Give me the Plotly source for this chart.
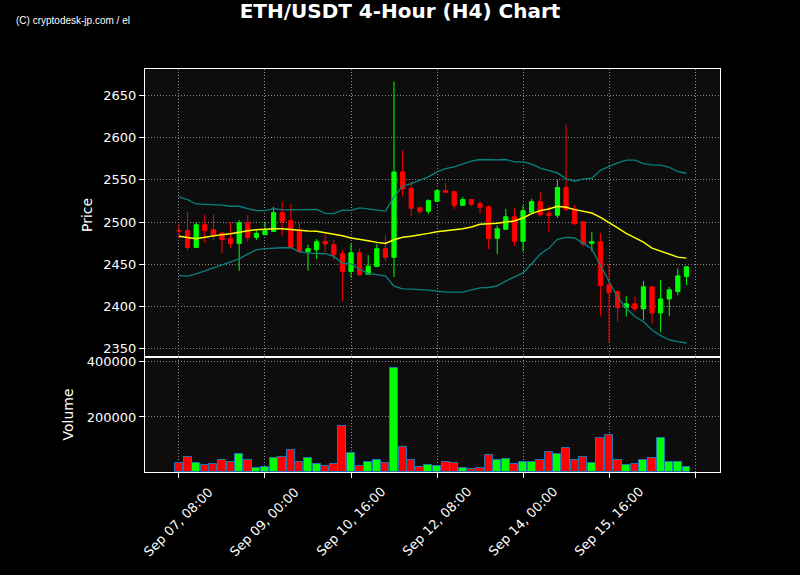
import pandas as pd
import plotly.graph_objects as go

# ---- data ----
start_time = "2024-09-07 08:00"
n_candles = 60
dates = pd.date_range(start=start_time, periods=n_candles, freq="4h")

opens = [2490.0, 2489.7, 2469.8, 2496.8, 2490.9, 2486.9, 2480.0, 2474.6, 2499.2, 2481.7,
         2484.9, 2488.9, 2511.1, 2501.6, 2490.5, 2464.7, 2467.0, 2477.0, 2473.0, 2462.3,
         2441.3, 2463.5, 2438.0, 2447.2, 2468.3, 2458.0, 2559.5, 2539.7, 2517.0, 2512.7,
         2524.6, 2537.3, 2536.0, 2519.8, 2526.6, 2521.8, 2518.0, 2480.6, 2491.3, 2506.3,
         2477.0, 2511.5, 2524.2, 2510.0, 2508.0, 2540.9, 2515.5, 2500.0, 2474.6, 2476.6,
         2425.4, 2417.5, 2398.4, 2402.8, 2396.8, 2423.0, 2392.0, 2408.7, 2417.5, 2435.3]
highs = [2498.0, 2511.9, 2499.6, 2508.7, 2508.7, 2487.5, 2500.0, 2502.4, 2508.3, 2490.0,
         2500.0, 2517.9, 2523.8, 2521.4, 2499.6, 2473.0, 2479.8, 2484.5, 2478.6, 2467.0,
         2474.6, 2468.7, 2460.7, 2473.8, 2484.5, 2666.7, 2584.9, 2548.4, 2517.5, 2527.0,
         2538.5, 2546.4, 2537.3, 2529.8, 2527.4, 2524.6, 2520.0, 2496.0, 2515.5, 2516.3,
         2519.8, 2527.4, 2535.7, 2518.7, 2550.0, 2615.9, 2519.8, 2501.2, 2488.0, 2487.0,
         2449.2, 2418.0, 2412.0, 2411.5, 2430.0, 2423.8, 2431.0, 2423.0, 2445.0, 2447.0]
lows = [2481.0, 2466.7, 2469.0, 2475.0, 2478.6, 2463.0, 2469.0, 2442.0, 2477.0, 2478.6,
        2484.5, 2488.5, 2483.7, 2469.5, 2463.0, 2442.5, 2456.0, 2464.0, 2455.0, 2406.3,
        2433.7, 2436.0, 2437.5, 2446.5, 2452.8, 2434.5, 2530.6, 2507.0, 2509.5, 2509.5,
        2524.0, 2535.0, 2515.5, 2519.5, 2518.6, 2509.5, 2467.9, 2462.0, 2490.9, 2471.8,
        2465.0, 2510.7, 2506.3, 2488.0, 2504.8, 2513.9, 2496.0, 2471.0, 2465.0, 2388.9,
        2357.0, 2381.7, 2387.7, 2393.6, 2383.7, 2378.6, 2369.0, 2388.0, 2413.0, 2425.0]
closes = [2489.5, 2469.8, 2496.8, 2489.7, 2484.5, 2479.0, 2474.6, 2499.2, 2481.7, 2486.5,
          2489.7, 2511.1, 2500.4, 2470.0, 2464.7, 2468.3, 2476.6, 2474.0, 2461.0, 2441.3,
          2463.5, 2437.3, 2447.6, 2468.3, 2458.0, 2559.5, 2539.3, 2516.3, 2512.7, 2525.4,
          2537.3, 2535.3, 2519.8, 2526.6, 2521.0, 2517.5, 2480.6, 2492.0, 2506.3, 2477.0,
          2513.5, 2524.2, 2508.7, 2508.0, 2540.9, 2514.7, 2498.0, 2473.8, 2476.6, 2424.6,
          2416.3, 2398.4, 2402.8, 2396.8, 2423.0, 2392.0, 2408.7, 2419.4, 2436.0, 2446.8]
volumes = [32500, 54200, 32500, 25300, 30100, 43400, 36100, 65100, 43400, 13300,
           18100, 50600, 54200, 79500, 36100, 50600, 28900, 21700, 28900, 166300,
           68700, 21700, 36100, 43400, 32500, 379500, 90400, 43400, 18100, 25300,
           21700, 36100, 32500, 13300, 9600, 14500, 61400, 43400, 47000, 28900,
           36100, 36100, 43400, 72300, 65100, 86700, 43400, 54200, 32500, 122900,
           133700, 43400, 25300, 28900, 43400, 50600, 122900, 36100, 36100, 18100]
ma20 = [2483.0, 2481.5, 2480.0, 2482.0, 2483.7, 2485.0, 2486.0, 2488.0, 2489.7, 2490.8,
        2491.7, 2492.0, 2492.0, 2491.0, 2489.7, 2489.3, 2489.0, 2487.5, 2485.7, 2483.7,
        2481.0, 2479.8, 2477.8, 2475.8, 2474.6, 2479.0, 2482.0, 2483.0, 2484.5, 2486.5,
        2488.5, 2489.7, 2490.5, 2492.0, 2494.0, 2497.2, 2498.0, 2498.4, 2500.0, 2501.2,
        2504.7, 2510.0, 2513.5, 2515.5, 2518.7, 2517.5, 2514.7, 2512.7, 2510.7, 2505.6,
        2499.6, 2492.9, 2486.5, 2481.0, 2476.2, 2469.0, 2465.5, 2462.3, 2458.3, 2457.1]
bb_upper = [2529.8, 2526.6, 2521.4, 2521.2, 2521.0, 2520.0, 2518.7, 2518.7, 2515.9, 2513.5,
            2513.5, 2515.9, 2514.3, 2514.3, 2514.3, 2515.0, 2515.0, 2510.3, 2510.0, 2514.0,
            2513.8, 2516.7, 2515.5, 2514.0, 2513.0, 2529.8, 2542.5, 2545.6, 2549.2, 2553.6,
            2559.5, 2563.5, 2565.5, 2569.0, 2572.2, 2574.2, 2573.8, 2573.8, 2574.2, 2571.4,
            2571.4, 2568.7, 2564.0, 2561.5, 2558.3, 2551.2, 2548.4, 2551.2, 2552.0, 2561.5,
            2566.3, 2570.2, 2573.4, 2573.4, 2569.4, 2567.9, 2567.5, 2565.0, 2559.9, 2557.9]
bb_lower = [2436.5, 2435.7, 2438.5, 2442.0, 2445.2, 2448.4, 2452.4, 2456.3, 2461.9, 2467.0,
            2468.3, 2469.0, 2469.4, 2469.4, 2464.7, 2463.0, 2462.3, 2462.3, 2459.1, 2451.2,
            2450.4, 2443.6, 2438.9, 2437.7, 2436.1, 2423.8, 2420.6, 2420.2, 2419.8, 2419.0,
            2417.9, 2416.7, 2416.7, 2416.7, 2419.4, 2421.8, 2422.2, 2424.2, 2429.8, 2434.9,
            2439.6, 2450.4, 2461.9, 2468.7, 2479.4, 2481.7, 2481.0, 2474.6, 2467.9, 2448.4,
            2429.4, 2410.7, 2397.6, 2387.7, 2381.7, 2371.8, 2365.1, 2359.9, 2357.9, 2356.3]

x_tick_vals = ["2024-09-07 08:00", "2024-09-09 00:00", "2024-09-10 16:00", "2024-09-12 08:00",
               "2024-09-14 00:00", "2024-09-15 16:00", "2024-09-17 08:00"]
x_tick_text = ["Sep 07, 08:00", "Sep 09, 00:00", "Sep 10, 16:00", "Sep 12, 08:00",
               "Sep 14, 00:00", "Sep 15, 16:00", ""]
price_ticks = [2350, 2400, 2450, 2500, 2550, 2600, 2650]
volume_ticks = [200000, 400000]

UP = "#00ff00"
DOWN = "#ff0000"
vol_colors = [UP if c > o else DOWN for o, c in zip(opens, closes)]

fig = go.Figure()
fig.add_trace(go.Candlestick(
    x=dates, open=opens, high=highs, low=lows, close=closes,
    increasing=dict(line=dict(color=UP, width=1), fillcolor=UP),
    decreasing=dict(line=dict(color=DOWN, width=1), fillcolor=DOWN),
    xaxis="x", yaxis="y", showlegend=False, hoverinfo="skip",
))
fig.add_trace(go.Scatter(x=dates, y=bb_upper, mode="lines", line=dict(color="#0a8080", width=1.3),
                         xaxis="x", yaxis="y", showlegend=False, hoverinfo="skip"))
fig.add_trace(go.Scatter(x=dates, y=bb_lower, mode="lines", line=dict(color="#0a8080", width=1.3),
                         xaxis="x", yaxis="y", showlegend=False, hoverinfo="skip"))
fig.add_trace(go.Scatter(x=dates, y=ma20, mode="lines", line=dict(color="#ffff00", width=1.5),
                         xaxis="x", yaxis="y", showlegend=False, hoverinfo="skip"))
fig.add_trace(go.Bar(
    x=dates, y=volumes, width=4 * 3600 * 1000 * 0.92,
    marker=dict(color=vol_colors, line=dict(color="#1f77b4", width=1)),
    xaxis="x2", yaxis="y2", showlegend=False, hoverinfo="skip",
))

x_range = ["2024-09-06 16:12", "2024-09-17 19:36"]
grid = dict(showgrid=True, gridcolor="#8a8a8a", griddash="1px,2px", gridwidth=1)
frame = dict(showline=True, linecolor="white", linewidth=1, mirror=True, zeroline=False)
tickfont = dict(family="DejaVu Sans", size=13, color="white")

# rotated date labels, centred under each tick (like matplotlib rotation=45)
date_labels = [
    dict(text=t, xref="x2", yref="paper", x=v, y=-0.024, textangle=-45,
         xanchor="center", yanchor="top", showarrow=False, font=tickfont)
    for v, t in zip(x_tick_vals, x_tick_text) if t
]

split = 0.2854
fig.update_layout(
    width=800, height=575,
    margin=dict(l=145, r=80, t=69, b=103),
    paper_bgcolor="#000000", plot_bgcolor="#0d0d0d",
    font=dict(family="DejaVu Sans", color="white"),
    title=dict(text="<b>ETH/USDT 4-Hour (H4) Chart</b>", x=0.5, xanchor="center",
               y=1 - 11 / 575, yanchor="middle", yref="container",
               font=dict(family="DejaVu Sans", size=20, color="white")),
    bargap=0,
    xaxis=dict(domain=[0, 1], anchor="y", range=x_range, type="date",
               tickvals=x_tick_vals, ticktext=x_tick_text, showticklabels=False, ticks="",
               rangeslider=dict(visible=False), **grid, **frame),
    yaxis=dict(domain=[split, 1], anchor="x", range=[2339.7, 2681.7],
               tickvals=price_ticks, ticks="outside", ticklen=5, tickcolor="white",
               tickfont=tickfont, **grid, **frame),
    xaxis2=dict(domain=[0, 1], anchor="y2", matches="x", type="date",
                tickvals=x_tick_vals, ticktext=x_tick_text, showticklabels=False,
                ticks="outside", ticklen=5, tickcolor="white",
                **grid, **frame),
    yaxis2=dict(domain=[0, split], anchor="x2", range=[0, 418000],
                tickvals=volume_ticks, ticktext=[str(v) for v in volume_ticks],
                ticks="outside", ticklen=5, tickcolor="white", tickfont=tickfont,
                **grid, **frame),
    annotations=[
        dict(text="Price", xref="paper", yref="paper", x=(87 - 145) / 575, y=(472 - 215) / 403,
             textangle=-90, showarrow=False, xanchor="center", yanchor="middle",
             font=dict(family="DejaVu Sans", size=14, color="white")),
        dict(text="Volume", xref="paper", yref="paper", x=(67.5 - 145) / 575, y=(472 - 415) / 403,
             textangle=-90, showarrow=False, xanchor="center", yanchor="middle",
             font=dict(family="DejaVu Sans", size=14, color="white")),
        dict(text="(C) cryptodesk-jp.com / el", xref="paper", yref="paper",
             x=(14 - 145) / 575, y=(472 - 21) / 403, showarrow=False,
             xanchor="left", yanchor="middle",
             font=dict(family="Liberation Sans", size=10, color="white")),
    ] + date_labels,
)

fig.write_html("out.html", config={"displayModeBar": False},
               post_script="document.body.style.margin='0';document.body.style.background='#000';")
